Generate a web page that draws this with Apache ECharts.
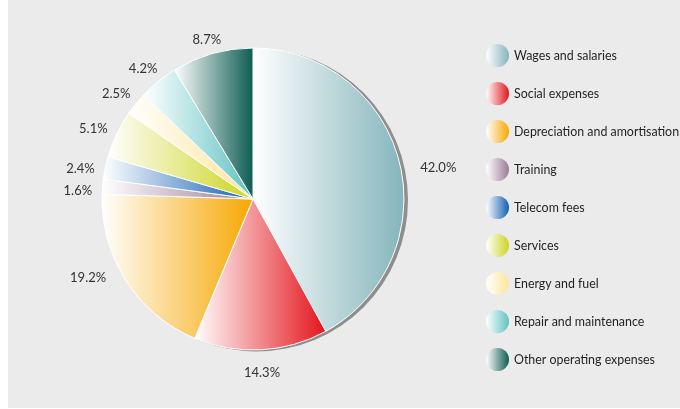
<!DOCTYPE html>
<html>
<head>
<meta charset="utf-8">
<script src="https://cdn.jsdelivr.net/npm/echarts@6/dist/echarts.min.js"></script>
<style>
  html, body { margin: 0; padding: 0; background: #ffffff; }
  #panel { position: absolute; left: 8px; top: 0; width: 672px; height: 408px; background: #ebebeb; }
  #chart { position: absolute; left: 0; top: 0; width: 680px; height: 409px; }
</style>
</head>
<body>
<div id="panel"></div>
<div id="chart"></div>
<script>
// Operating expense breakdown, share of total (%)
const categories = [
  'Wages and salaries',
  'Social expenses',
  'Depreciation and amortisation',
  'Training',
  'Telecom fees',
  'Services',
  'Energy and fuel',
  'Repair and maintenance',
  'Other operating expenses'
];
const shares = [42.0, 14.3, 19.2, 1.6, 2.4, 5.1, 2.5, 4.2, 8.7];
const colors = ['#84b4bb', '#e3141b', '#f6a700', '#9b7a97', '#0f5fb0', '#ccd41e', '#fde59a', '#5ec1c3', '#0d5c52'];

const FONT = 'Lato';
const CX = 253, CY = 199, R = 151;

// label placement tweaks: [extra angle in degrees, extra distance in px]
const labelNudge = { 0: [3, 9], 2: [9, 0] };

// each slice fades from white on its left edge to its full colour on the right
function fade(c) {
  return new echarts.graphic.LinearGradient(0, 0, 1, 0, [
    { offset: 0, color: '#ffffff' },
    { offset: 1, color: c }
  ]);
}

// mid-angle of every slice (clockwise from 12 o'clock), in radians
const total = shares.reduce((a, b) => a + b, 0);
const midAngles = [];
let acc = 0;
shares.forEach(v => {
  midAngles.push((acc + v / 2) / total * Math.PI * 2);
  acc += v;
});

const chart = echarts.init(document.getElementById('chart'), null, { renderer: 'canvas' });

chart.setOption({
  animation: false,
  legend: {
    orient: 'vertical',
    left: 481,
    top: 39,
    icon: 'circle',
    itemWidth: 23,
    itemHeight: 23,
    itemGap: 15,
    selectedMode: false,
    data: categories,
    itemStyle: { borderWidth: 0 },
    textStyle: { fontFamily: FONT, fontSize: 12.4, color: '#231f20' }
  },
  series: [
    {
      // drop shadow behind the pie
      type: 'pie',
      silent: true,
      z: 1,
      center: [CX + 3.5, CY + 1],
      radius: R + 0.5,
      label: { show: false },
      labelLine: { show: false },
      itemStyle: { color: '#8e8e8e' },
      data: [{ value: 1, name: '' }]
    },
    {
      type: 'pie',
      z: 2,
      center: [CX, CY],
      radius: R,
      startAngle: 90,
      clockwise: true,
      avoidLabelOverlap: false,
      itemStyle: { borderColor: '#ffffff', borderWidth: 1 },
      label: {
        show: true,
        position: 'outside',
        fontFamily: FONT,
        fontSize: 13,
        color: '#333333',
        formatter: p => p.value.toFixed(1) + '%'
      },
      labelLine: { show: false },
      labelLayout: params => {
        const nudge = labelNudge[params.dataIndex] || [0, 0];
        const a = midAngles[params.dataIndex] + nudge[0] * Math.PI / 180;
        const w = params.labelRect.width, h = params.labelRect.height;
        const sx = Math.sin(a), cy = -Math.cos(a);
        const d = R + 10 + nudge[1] + Math.abs(sx) * w / 2 + Math.abs(cy) * h / 2;
        return {
          x: CX + sx * d,
          y: CY + cy * d + 6,
          align: 'center',
          verticalAlign: 'middle'
        };
      },
      data: categories.map((name, i) => ({
        name,
        value: shares[i],
        itemStyle: { color: fade(colors[i]) }
      }))
    }
  ]
});
</script>
</body>
</html>
